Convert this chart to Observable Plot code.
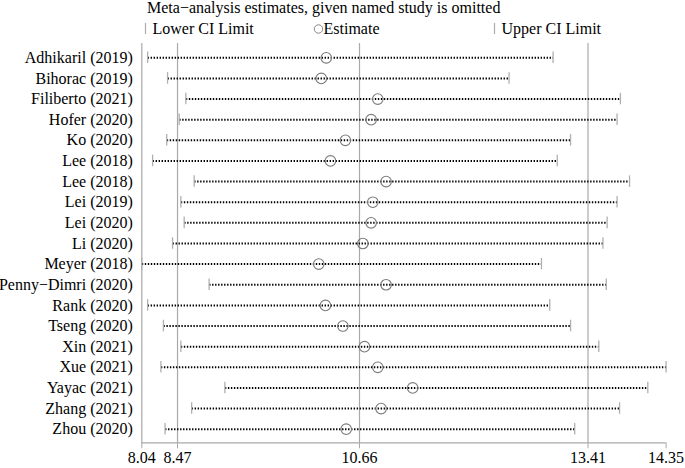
<!DOCTYPE html>
<html>
<head>
<meta charset="utf-8">
<script src="https://cdn.jsdelivr.net/npm/d3@7"></script>
<script src="https://cdn.jsdelivr.net/npm/@observablehq/plot@0.6"></script>
<style>
  html, body { margin: 0; padding: 0; background: #fff; }
  #chart, #chart svg, #chart svg text { font-family: "Liberation Serif", "Times New Roman", serif !important; }
</style>
</head>
<body>
<div id="chart"></div>
<script>
// ---- data ----
const studies = ["Adhikaril (2019)", "Bihorac (2019)", "Filiberto (2021)", "Hofer (2020)", "Ko (2020)",
  "Lee (2018)", "Lee (2018)", "Lei (2019)", "Lei (2020)", "Li (2020)", "Meyer (2018)",
  "Penny\u2212Dimri (2020)", "Rank (2020)", "Tseng (2020)", "Xin (2021)", "Xue (2021)",
  "Yayac (2021)", "Zhang (2021)", "Zhou (2020)"];
const lower = [8.11, 8.35, 8.57, 8.49, 8.34, 8.17, 8.67, 8.51, 8.55, 8.41, 8.04, 8.85, 8.11, 8.30, 8.51, 8.27, 9.04, 8.64, 8.32];
const estimate = [10.26, 10.20, 10.88, 10.80, 10.49, 10.31, 10.98, 10.82, 10.80, 10.70, 10.17, 10.98, 10.25, 10.46, 10.72, 10.88, 11.30, 10.92, 10.50];
const upper = [12.99, 12.46, 13.80, 13.76, 13.20, 13.04, 13.91, 13.76, 13.64, 13.59, 12.85, 13.63, 12.95, 13.20, 13.54, 14.35, 14.13, 13.79, 13.25];
const overall = [8.47, 10.66, 13.41];          // combined lower CI, estimate, upper CI
const axisTicks = [8.04, 8.47, 10.66, 13.41, 14.35];
const titleText = "Meta\u2212analysis estimates, given named study is omitted";
const legendLabels = ["Lower CI Limit", "Estimate", "Upper CI Limit"];

// ---- table ----
const rows = studies.map((s, i) => ({i, study: s, lo: lower[i], est: estimate[i], hi: upper[i]}));
const xMin = d3.min(lower), xMax = d3.max(upper);
const yTop = -0.693, yBottom = 18.66;
const FONT = "Liberation Serif, Times New Roman, serif";
const FS = "16px";

// ---- header (title + legend) ----
const header = d3.create("svg").attr("width", 685).attr("height", 40)
  .style("display", "block").style("font-family", FONT).style("font-size", FS);
header.append("text").attr("x", 147).attr("y", 13).text(titleText);
const lg = header.append("g");
lg.append("line").attr("x1", 145.5).attr("x2", 145.5).attr("y1", 23).attr("y2", 34).attr("stroke", "#aaa").attr("stroke-width", 1.2);
lg.append("text").attr("x", 152.5).attr("y", 34).text(legendLabels[0]);
lg.append("circle").attr("cx", 318.5).attr("cy", 29).attr("r", 4.2).attr("fill", "none").attr("stroke", "#888");
lg.append("text").attr("x", 323.5).attr("y", 34).text(legendLabels[1]);
lg.append("line").attr("x1", 494.5).attr("x2", 494.5).attr("y1", 23).attr("y2", 34).attr("stroke", "#aaa").attr("stroke-width", 1.2);
lg.append("text").attr("x", 501.5).attr("y", 34).text(legendLabels[2]);
document.getElementById("chart").append(header.node());

// ---- plot ----
const plot = Plot.plot({
  width: 685,
  height: 428,
  marginLeft: 141.3,
  marginRight: 19.4,
  marginTop: 3,
  marginBottom: 25.7,
  style: {fontFamily: FONT, fontSize: FS, color: "#000", background: "#fff", overflow: "visible"},
  x: {domain: [xMin, xMax]},
  y: {domain: [yTop, yBottom], reverse: true},
  marks: [
    // left frame line and overall reference lines
    Plot.ruleX([xMin, ...overall], {y1: yTop, y2: yBottom, stroke: "#a9a9a9", strokeWidth: 1.2}),
    // x axis line
    Plot.ruleY([yBottom], {x1: xMin, x2: xMax, stroke: "#a9a9a9", strokeWidth: 1.2}),
    Plot.axisX({ticks: axisTicks, tickFormat: d3.format(".2f"), tickSize: 6, tickPadding: 3, label: null,
      stroke: "#a9a9a9", fill: "#000", fontSize: FS, fontFamily: FONT}),
    Plot.axisY({ticks: d3.range(studies.length), tickFormat: i => studies[i], tickSize: 0, label: null,
      tickPadding: 9, fill: "#000", fontSize: FS, fontFamily: FONT}),
    // dotted CI lines
    Plot.link(rows, {x1: "lo", x2: "hi", y1: "i", y2: "i", stroke: "#000", strokeWidth: 2,
      strokeDasharray: "1.4,1.6"}),
    // CI limit markers
    Plot.ruleX(rows, {x: "lo", y1: d => d.i - 0.28, y2: d => d.i + 0.28, stroke: "#b0b0b0", strokeWidth: 1.3}),
    Plot.ruleX(rows, {x: "hi", y1: d => d.i - 0.28, y2: d => d.i + 0.28, stroke: "#b0b0b0", strokeWidth: 1.3}),
    // estimates
    Plot.dot(rows, {x: "est", y: "i", r: 5.3, stroke: "#7a7a7a", strokeWidth: 1.1, fill: "none"})
  ]
});
plot.style.display = "block";
plot.style.fontFamily = FONT;
document.getElementById("chart").append(plot);
</script>
</body>
</html>
